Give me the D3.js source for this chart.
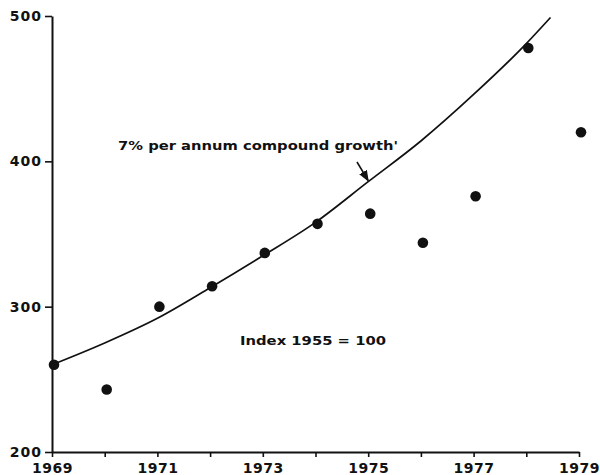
<!DOCTYPE html>
<html>
<head>
<meta charset="utf-8">
<script src="https://cdn.jsdelivr.net/npm/d3@7"></script>
<style>
  body { margin: 0; background: #fff; }
  svg { display: block; }
  text { font-family: "DejaVu Sans", sans-serif; fill: #111; }
</style>
</head>
<body>
<svg id="chart" width="600" height="475"></svg>
<script>
// index values (1955 = 100)
var years = [1969, 1970, 1971, 1972, 1973, 1974, 1975, 1976, 1977, 1978, 1979];
var index_values = [260, 243, 300, 314, 337, 357, 364, 344, 376, 478, 420];

// the 7% p.a. compound growth trend line
var trend_years = [1969, 1970, 1971, 1972, 1973, 1974, 1975, 1976, 1977, 1978, 1978.46];
var trend_values = [260, 275, 292, 313, 335, 358, 386, 414, 446, 481, 499];

var y_ticks = [200, 300, 400, 500];
var x_label_years = [1969, 1971, 1973, 1975, 1977, 1979];

var svg = d3.select('#chart');

var x = d3.scaleLinear().domain([1969, 1979]).range([52, 579]);
var y = d3.scaleLinear().domain([200, 500]).range([452, 16]);

// y axis
var y_axis = svg.append('g').attr('transform', 'translate(' + x(1969) + ',0)')
    .call(d3.axisLeft(y).tickValues(y_ticks).tickSize(7).tickSizeOuter(0).tickPadding(3).tickFormat(d3.format('d')));
y_axis.select('.domain').attr('stroke', '#111').attr('stroke-width', 2);
y_axis.selectAll('.tick line').attr('stroke', '#111').attr('stroke-width', 1.6);
y_axis.selectAll('.tick text')
    .style('font-size', '14px').style('font-weight', 'bold').style('letter-spacing', '1px')
    .attr('fill', '#111');

// x axis
var x_axis = svg.append('g').attr('transform', 'translate(0,' + y(200) + ')')
    .call(d3.axisBottom(x).tickValues(years).tickSize(5).tickSizeOuter(0).tickPadding(6)
        .tickFormat(function (d) { return x_label_years.indexOf(d) !== -1 ? d : ''; }));
x_axis.select('.domain').attr('stroke', '#111').attr('stroke-width', 2.2);
x_axis.selectAll('.tick line').attr('stroke', '#111').attr('stroke-width', 1.6);
x_axis.selectAll('.tick text')
    .style('font-size', '14px').style('font-weight', 'bold').style('letter-spacing', '0.5px')
    .attr('fill', '#111');

// trend line
var line = d3.line()
    .x(function (d, i) { return x(trend_years[i]); })
    .y(function (d) { return y(d); })
    .curve(d3.curveMonotoneX);

svg.append('path')
    .datum(trend_values)
    .attr('d', line)
    .attr('fill', 'none')
    .attr('stroke', '#111')
    .attr('stroke-width', 1.7);

// data points
svg.selectAll('circle.pt')
    .data(index_values)
    .enter().append('circle')
    .attr('class', 'pt')
    .attr('cx', function (d, i) { return x(years[i]) + 2; })
    .attr('cy', function (d) { return y(d); })
    .attr('r', 5.3)
    .attr('fill', '#111');

// annotation: trend label and arrow
svg.append('defs').append('marker')
    .attr('id', 'arrowhead')
    .attr('viewBox', '0 0 10 10')
    .attr('refX', 9).attr('refY', 5)
    .attr('markerWidth', 7).attr('markerHeight', 7)
    .attr('orient', 'auto')
    .append('path').attr('d', 'M0,1 L10,5 L0,9 Z').attr('fill', '#111');

svg.append('text')
    .attr('x', 118).attr('y', 150)
    .attr('textLength', 280).attr('lengthAdjust', 'spacingAndGlyphs')
    .style('font-size', '13px').style('font-weight', 'bold')
    .text("7% per annum compound growth'");

svg.append('line')
    .attr('x1', 357).attr('y1', 162)
    .attr('x2', x(1975)).attr('y2', y(386) - 1)
    .attr('stroke', '#111').attr('stroke-width', 1.6)
    .attr('marker-end', 'url(#arrowhead)');

svg.append('text')
    .attr('x', 240).attr('y', 345)
    .attr('textLength', 146).attr('lengthAdjust', 'spacingAndGlyphs')
    .style('font-size', '13px').style('font-weight', 'bold')
    .text('Index  1955 = 100');
</script>
</body>
</html>
